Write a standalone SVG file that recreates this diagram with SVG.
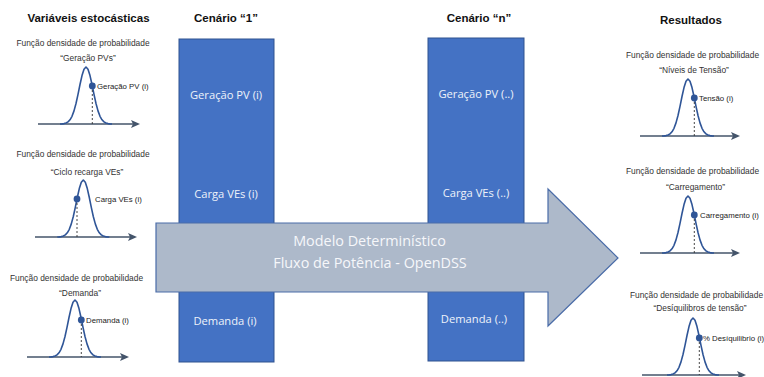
<svg xmlns="http://www.w3.org/2000/svg" xmlns:xlink="http://www.w3.org/1999/xlink" width="764" height="377" viewBox="0 0 764 377">
  <style>
    .hdr { font-family: "Liberation Sans", Arial, sans-serif; font-weight: bold; font-size: 11.5px; fill: #111; text-anchor: middle; }
    .pdf-title { font-family: "Liberation Sans", Arial, sans-serif; font-size: 8.4px; fill: #333; text-anchor: middle; }
    .pdf-label { font-family: "Liberation Sans", Arial, sans-serif; font-size: 7.8px; fill: #222; }
    .box { fill: #4472C4; stroke: #2F528F; stroke-width: 1; }
    .box-text { font-family: "Open Sans", "Noto Sans", sans-serif; font-size: 11.2px; fill: #EEF2FA; text-anchor: middle; }
    .big-arrow { fill: #ADB9CA; stroke: #4A6CA8; stroke-width: 1.2; }
    .arrow-text { font-family: "Open Sans", "Noto Sans", sans-serif; font-size: 14.4px; fill: #F6F7FA; text-anchor: middle; }
    .curve { fill: none; stroke: #2F5597; stroke-width: 1.6; stroke-linejoin: round; }
    .axis { stroke: #44546A; stroke-width: 1.6; marker-end: url(#axisHead); }
    .guide { stroke: #333; stroke-width: 0.9; stroke-dasharray: 2 2; }
    .dot { fill: #2F5597; }
  </style>
  <defs>
    <marker id="axisHead" markerUnits="userSpaceOnUse" markerWidth="9" markerHeight="8" refX="7" refY="4" orient="auto">
      <path d="M0,0 L9,4 L0,8 L2,4 z" fill="#44546A"/>
    </marker>
    <!-- bell curve, peak at (0,-57), base on y=0 -->
    <polyline id="bell" class="curve" points="-26,0 -24,-0.15 -22,-0.4 -20,-1 -18,-2.1 -16,-4.2 -14,-7.7 -12,-13.1 -10,-20.5 -8,-29.7 -6,-39.5 -4,-48.4 -2,-54.7 0,-57 2,-54.7 4,-48.4 6,-39.5 8,-29.7 10,-20.5 12,-13.1 14,-7.7 16,-4.2 18,-2.1 20,-1 22,-0.4 24,-0.15 26,0"/>
  </defs>

  <rect width="764" height="377" fill="#ffffff"/>

  <!-- column headings -->
  <g id="headings">
    <text class="hdr" x="88.5" y="22">Variáveis estocásticas</text>
    <text class="hdr" x="226" y="22">Cenário “1”</text>
    <text class="hdr" x="479" y="22">Cenário “n”</text>
    <text class="hdr" x="691" y="24">Resultados</text>
  </g>

  <!-- stochastic inputs -->
  <g id="pdf-geracao">
    <text class="pdf-title" x="83" y="46">Função densidade de probabilidade</text>
    <text class="pdf-title" x="88" y="61">“Geração  PVs”</text>
    <line class="axis" x1="38" y1="124" x2="138" y2="124"/>
    <use xlink:href="#bell" transform="translate(86,124)"/>
    <line class="guide" x1="92.3" y1="86" x2="92.3" y2="124"/>
    <circle class="dot" cx="92.3" cy="86" r="3.4"/>
    <text class="pdf-label" x="97" y="89">Geração PV (i)</text>
  </g>

  <g id="pdf-recarga">
    <text class="pdf-title" x="83" y="157">Função densidade de probabilidade</text>
    <text class="pdf-title" x="87" y="175">“Ciclo recarga VEs”</text>
    <line class="axis" x1="35" y1="237" x2="135" y2="237"/>
    <use xlink:href="#bell" transform="translate(83.3,237)"/>
    <line class="guide" x1="77" y1="199" x2="77" y2="237"/>
    <circle class="dot" cx="77" cy="199" r="3.4"/>
    <text class="pdf-label" x="95" y="202">Carga VEs (i)</text>
  </g>

  <g id="pdf-demanda">
    <text class="pdf-title" x="76.5" y="281">Função densidade de probabilidade</text>
    <text class="pdf-title" x="80" y="296">“Demanda”</text>
    <line class="axis" x1="27" y1="357" x2="127" y2="357"/>
    <use xlink:href="#bell" transform="translate(75,357)"/>
    <line class="guide" x1="81.3" y1="320" x2="81.3" y2="357"/>
    <circle class="dot" cx="81.3" cy="320" r="3.4"/>
    <text class="pdf-label" x="86" y="323">Demanda (i)</text>
  </g>

  <!-- scenario columns -->
  <g id="cenario-1">
    <rect class="box" x="179" y="39" width="95" height="323"/>
    <text class="box-text" x="226" y="99">Geração PV (i)</text>
    <text class="box-text" x="226" y="198">Carga VEs (i)</text>
    <text class="box-text" x="225" y="325">Demanda (i)</text>
  </g>

  <g id="cenario-n">
    <rect class="box" x="428" y="38" width="96" height="323"/>
    <text class="box-text" x="476" y="98">Geração PV (..)</text>
    <text class="box-text" x="476" y="197">Carga VEs (..)</text>
    <text class="box-text" x="474" y="323">Demanda (..)</text>
  </g>

  <!-- deterministic power-flow model -->
  <g id="connectors">
    <g id="modelo-deterministico">
      <path class="big-arrow" d="M156,223 H548 V189 L618,258 L548,326 V292 H156 Z"/>
      <text class="arrow-text" x="369.5" y="246">Modelo Determinístico</text>
      <text class="arrow-text" x="370" y="268">Fluxo de Potência - OpenDSS</text>
    </g>
  </g>

  <!-- results -->
  <g id="pdf-tensao">
    <text class="pdf-title" x="692.5" y="58">Função densidade de probabilidade</text>
    <text class="pdf-title" x="694" y="73">“Níveis  de Tensão”</text>
    <line class="axis" x1="640" y1="136" x2="738" y2="136"/>
    <use xlink:href="#bell" transform="translate(688,136)"/>
    <line class="guide" x1="694.3" y1="98" x2="694.3" y2="136"/>
    <circle class="dot" cx="694.3" cy="98" r="3.4"/>
    <text class="pdf-label" x="699" y="101">Tensão (i)</text>
  </g>

  <g id="pdf-carregamento">
    <text class="pdf-title" x="692.5" y="174">Função densidade de probabilidade</text>
    <text class="pdf-title" x="695.5" y="190">“Carregamento”</text>
    <line class="axis" x1="640" y1="253" x2="738" y2="253"/>
    <use xlink:href="#bell" transform="translate(688,253)"/>
    <line class="guide" x1="694.3" y1="215" x2="694.3" y2="253"/>
    <circle class="dot" cx="694.3" cy="215" r="3.4"/>
    <text class="pdf-label" x="700" y="218">Carregamento  (i)</text>
  </g>

  <g id="pdf-desequilibrio">
    <text class="pdf-title" x="696.5" y="298">Função densidade de probabilidade</text>
    <text class="pdf-title" x="700" y="311">“Desíquilibros  de tensão”</text>
    <line class="axis" x1="642" y1="375" x2="744" y2="375"/>
    <use xlink:href="#bell" transform="translate(693,375)"/>
    <line class="guide" x1="699.3" y1="338" x2="699.3" y2="375"/>
    <circle class="dot" cx="699.3" cy="338" r="3.4"/>
    <text class="pdf-label" x="703" y="341">% Desíquilibrio (i)</text>
  </g>
</svg>
